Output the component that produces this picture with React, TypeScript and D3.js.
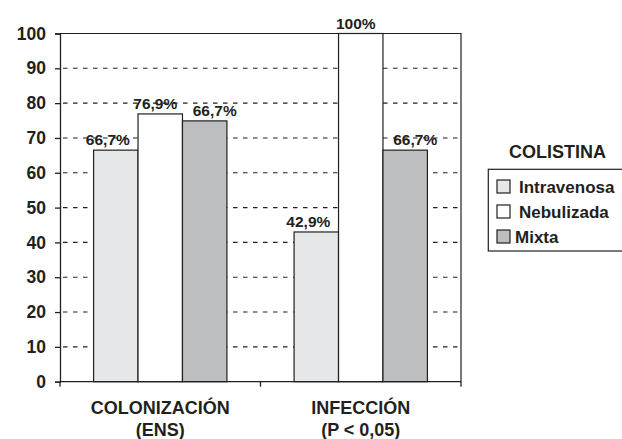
import * as d3 from "d3";
import { FC, useEffect, useRef } from "react";

// data
const groups = ["COLONIZACIÓN", "INFECCIÓN"];
const groupSub = ["(ENS)", "(P < 0,05)"];
const series = ["Intravenosa", "Nebulizada", "Mixta"];
const colonizacion = [66.5, 76.9, 74.9];
const infeccion = [43, 100, 66.5];
const colonizacionLabels = ["66,7%", "76,9%", "66,7%"];
const infeccionLabels = ["42,9%", "100%", "66,7%"];
const yTicks = [0, 10, 20, 30, 40, 50, 60, 70, 80, 90, 100];

const colors = ["#e6e7e8", "#ffffff", "#bcbec0"];
const labelShift = [-8, -5, 10]; // label offset per series, as in the original
const ink = "#231f20";
const font = "'Liberation Sans', Arial, Helvetica, sans-serif";

const App: FC = () => {
  const svgRef = useRef<SVGSVGElement | null>(null);
  const width = 622;
  const height = 439;

  useEffect(() => {
    if (!svgRef.current) return;
    const svg = d3.select(svgRef.current);
    svg.selectAll("*").remove();

    const left = 60;
    const right = 461;
    const top = 33.5;
    const bottom = 381.7;

    const x0 = d3
      .scaleBand()
      .domain(groups)
      .range([left, right])
      .paddingInner(0.335)
      .paddingOuter(0.1675);
    const x1 = d3.scaleBand().domain(series).range([0, x0.bandwidth()]);
    const y = d3.scaleLinear().domain([0, 100]).range([bottom, top]);

    const rows = [
      { group: groups[0], values: colonizacion, labels: colonizacionLabels },
      { group: groups[1], values: infeccion, labels: infeccionLabels },
    ];

    // dashed grid
    svg
      .append("g")
      .selectAll("line")
      .data(yTicks.filter((t) => t > 0 && t < 100))
      .enter()
      .append("line")
      .attr("x1", left + 3)
      .attr("x2", right)
      .attr("y1", (d) => y(d))
      .attr("y2", (d) => y(d))
      .attr("stroke", ink)
      .attr("stroke-width", 1.1)
      .attr("stroke-dasharray", "4.5 5.5");

    // bars
    const g = svg
      .selectAll(".grp")
      .data(rows)
      .enter()
      .append("g")
      .attr("transform", (d) => `translate(${x0(d.group)},0)`);

    g.selectAll("rect")
      .data((d) => d.values.map((v, i) => ({ key: series[i], v, i })))
      .enter()
      .append("rect")
      .attr("x", (d) => x1(d.key)!)
      .attr("y", (d) => y(d.v))
      .attr("width", x1.bandwidth())
      .attr("height", (d) => y(0) - y(d.v))
      .attr("fill", (d) => colors[d.i])
      .attr("stroke", ink)
      .attr("stroke-width", 1.2);

    g.selectAll("text")
      .data((d) => d.values.map((v, i) => ({ key: series[i], v, i, label: d.labels[i] })))
      .enter()
      .append("text")
      .attr("x", (d) => x1(d.key)! + x1.bandwidth() / 2 + labelShift[d.i])
      .attr("y", (d) => y(d.v) - 5)
      .attr("text-anchor", "middle")
      .attr("font-family", font)
      .attr("font-weight", "bold")
      .attr("font-size", "15.5px")
      .attr("fill", ink)
      .text((d) => d.label);

    // frame: top and right
    svg
      .append("path")
      .attr("d", `M${left},${top}H${right}V${bottom}`)
      .attr("fill", "none")
      .attr("stroke", ink)
      .attr("stroke-width", 1.2);

    // y axis
    const yAxis = svg
      .append("g")
      .attr("transform", `translate(${left},0)`)
      .call(d3.axisLeft(y).tickValues(yTicks).tickSize(5).tickPadding(9));
    yAxis.select(".domain").attr("stroke", ink).attr("stroke-width", 1.3);
    yAxis.selectAll(".tick line").attr("stroke", ink).attr("stroke-width", 1.3);
    yAxis
      .selectAll(".tick text")
      .attr("font-family", font)
      .attr("font-weight", "bold")
      .attr("font-size", "17.5px")
      .attr("fill", ink);

    // x axis with boundary ticks
    const xb = svg.append("g");
    xb.append("line")
      .attr("x1", left)
      .attr("x2", right)
      .attr("y1", bottom)
      .attr("y2", bottom)
      .attr("stroke", ink)
      .attr("stroke-width", 1.3);
    const bounds = [left, (x0(groups[1])! + x0(groups[0])! + x0.bandwidth()) / 2, right];
    xb.selectAll(".xt")
      .data(bounds)
      .enter()
      .append("line")
      .attr("x1", (d) => d)
      .attr("x2", (d) => d)
      .attr("y1", bottom)
      .attr("y2", bottom + 5)
      .attr("stroke", ink)
      .attr("stroke-width", 1.3);

    const cat = svg
      .selectAll(".cat")
      .data(groups)
      .enter()
      .append("text")
      .attr("x", (d) => x0(d)! + x0.bandwidth() / 2)
      .attr("y", 414)
      .attr("text-anchor", "middle")
      .attr("font-family", font)
      .attr("font-weight", "bold")
      .attr("font-size", "18px")
      .attr("fill", ink);
    cat.append("tspan").text((d) => d);
    cat
      .append("tspan")
      .attr("x", (d) => x0(d)! + x0.bandwidth() / 2)
      .attr("dy", 22)
      .text((d, i) => groupSub[i]);

    // legend
    const lg = svg.append("g");
    lg.append("text")
      .attr("x", 557.5)
      .attr("y", 158.3)
      .attr("text-anchor", "middle")
      .attr("font-family", font)
      .attr("font-weight", "bold")
      .attr("font-size", "18px")
      .attr("fill", ink)
      .text("COLISTINA");
    lg.append("rect")
      .attr("x", 488.3)
      .attr("y", 169.3)
      .attr("width", 140)
      .attr("height", 81.7)
      .attr("fill", "none")
      .attr("stroke", ink)
      .attr("stroke-width", 1.2);
    const item = lg
      .selectAll(".li")
      .data(series)
      .enter()
      .append("g")
      .attr("transform", (_, i) => `translate(497, ${180 + i * 25})`);
    item
      .append("rect")
      .attr("width", 13)
      .attr("height", 13)
      .attr("fill", (_, i) => colors[i])
      .attr("stroke", ink)
      .attr("stroke-width", 1.2);
    item
      .append("text")
      .attr("x", (_, i) => (i === 2 ? 18 : 22))
      .attr("y", 13)
      .attr("font-family", font)
      .attr("font-weight", "bold")
      .attr("font-size", "17px")
      .attr("fill", ink)
      .text((d) => d);
  }, []);

  return (
    <svg
      ref={svgRef}
      width={width}
      height={height}
      style={{ position: "absolute", left: 0, top: 0, background: "#fff" }}
    />
  );
};

export default App;
